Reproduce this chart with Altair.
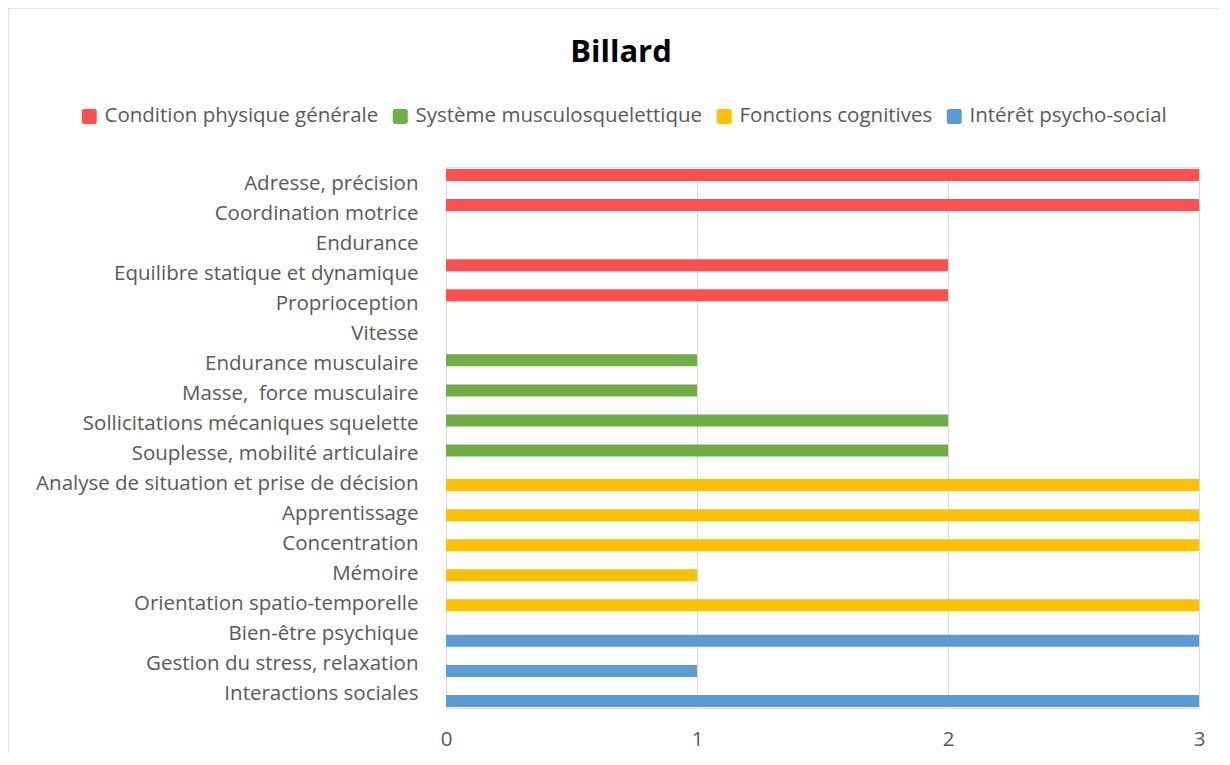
import altair as alt
import pandas as pd

NB = "\u00a0"
categories = [
    "Adresse, précision",
    "Coordination motrice",
    "Endurance",
    "Equilibre statique et dynamique",
    "Proprioception",
    "Vitesse",
    "Endurance musculaire",
    "Masse," + NB + " force musculaire",
    "Sollicitations mécaniques squelette",
    "Souplesse, mobilité articulaire",
    "Analyse de situation et prise de décision",
    "Apprentissage",
    "Concentration",
    "Mémoire",
    "Orientation spatio-temporelle",
    "Bien-être psychique",
    "Gestion du stress, relaxation",
    "Interactions sociales",
]
values = [3, 3, 0, 2, 2, 0, 1, 1, 2, 2, 3, 3, 3, 1, 3, 3, 1, 3]
series_names = [
    "Condition physique générale",
    "Système musculosquelettique",
    "Fonctions cognitives",
    "Intérêt psycho-social",
]
series = [series_names[0]] * 6 + [series_names[1]] * 4 + [series_names[2]] * 5 + [series_names[3]] * 3
colors = ["#FF5050", "#70AD47", "#FFC000", "#5B9BD5"]
bar_offsets = [-7, -2, 2.5, 8]
x_ticks = [0, 1, 2, 3]

df = pd.DataFrame({"cat": categories, "val": values, "series": series})

W, H = 753, 541
FONT = "Open Sans"
FS = 20.5
ROUND_SQ = ("M -0.7,-1 H 0.7 A 0.3 0.3 0 0 1 1,-0.7 V 0.7 A 0.3 0.3 0 0 1 0.7,1 "
            "H -0.7 A 0.3 0.3 0 0 1 -1,0.7 V -0.7 A 0.3 0.3 0 0 1 -0.7,-1 Z")

layers = []
border = alt.Chart(pd.DataFrame({"a": [0]})).mark_rect(
    filled=False, stroke="#d9d9d9", strokeWidth=1.5
).encode(x=alt.value(-438), x2=alt.value(W + 200), y=alt.value(-159), y2=alt.value(H + 200))
layers.append(border)

for s, off in zip(series_names, bar_offsets):
    layers.append(
        alt.Chart(df).transform_filter(alt.datum.series == s).mark_bar(size=12, yOffset=off).encode(
            x=alt.X("val:Q", scale=alt.Scale(domain=[0, 3], nice=False),
                    axis=alt.Axis(values=x_ticks, title=None, grid=True, gridColor="#d9d9d9",
                                  domain=False, ticks=False, labelFontSize=FS, labelColor="#595959",
                                  labelFont=FONT, labelPadding=21, format="d", labelFlush=False)),
            y=alt.Y("cat:N", sort=categories,
                    scale=alt.Scale(paddingInner=0, paddingOuter=0),
                    axis=alt.Axis(title=None, ticks=False, domain=True, domainColor="#d9d9d9",
                                  labelFontSize=FS, labelColor="#595959", labelFont=FONT,
                                  labelPadding=28, labelLimit=500, labelOffset=1.5)),
            color=alt.Color("series:N", scale=alt.Scale(domain=series_names, range=colors),
                            legend=alt.Legend(orient="none", legendX=-367, legendY=-61,
                                              direction="horizontal", title=None,
                                              symbolType=ROUND_SQ, symbolSize=225,
                                              symbolStrokeWidth=0, labelFontSize=FS,
                                              labelColor="#595959", labelFont=FONT,
                                              labelOffset=5, columnPadding=11, labelLimit=500)),
        )
    )

title = alt.Chart(pd.DataFrame({"t": ["Billard"]})).mark_text(
    fontSize=31, fontWeight="bold", font=FONT, color="#000000", baseline="middle", align="center"
).encode(x=alt.value(175), y=alt.value(-114), text="t:N")
layers.append(title)

chart = alt.layer(*layers).properties(
    width=W, height=H,
    autosize=alt.AutoSizeParams(type="none"),
    padding={"left": 438, "top": 159, "right": 20, "bottom": 45},
).configure_view(stroke=None).configure(background="white")

chart.save("out.html", embed_options={"renderer": "svg", "actions": False})
